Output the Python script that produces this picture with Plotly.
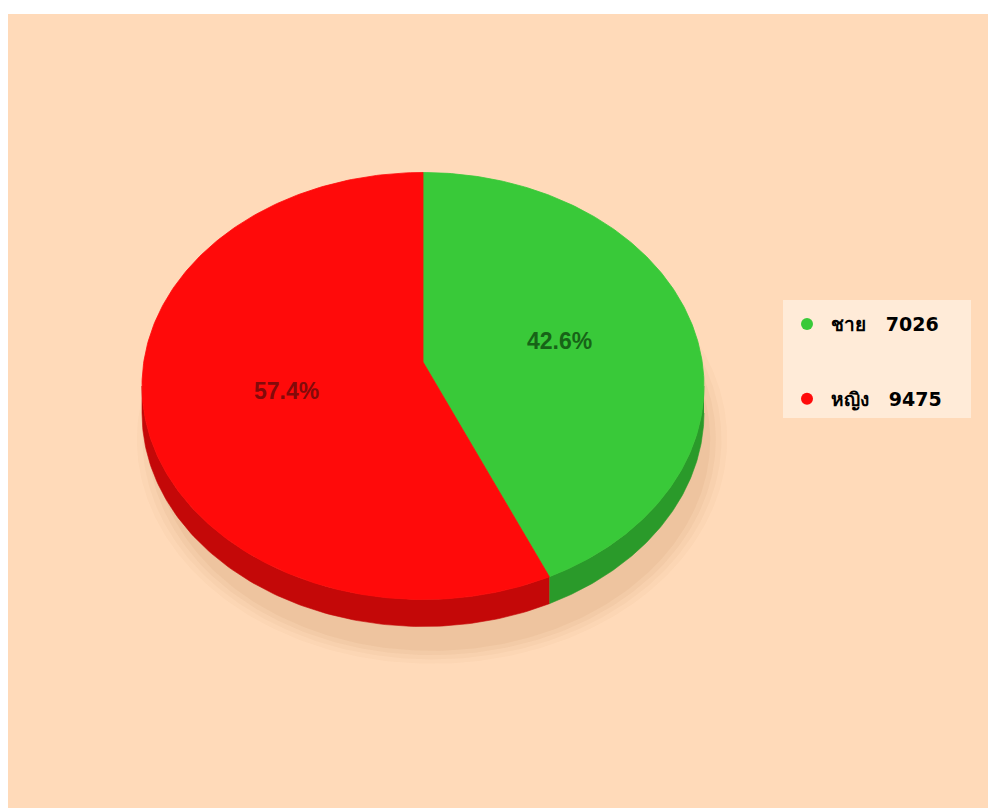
import numpy as np
import plotly.graph_objects as go

# ---- data ----
labels = ["ชาย", "หญิง"]
values = [7026, 9475]
top_colors = ["#39C939", "#FF0A0A"]
side_colors = ["#2A9A2A", "#C40808"]
label_colors = ["#176317", "#820A0A"]

# ---- geometry (axis units = screen pixels; page body adds an 8px offset) ----
OFF = 8                    # browser body margin
W, H = 996 - OFF, 808 - OFF
MT = 6
cx, cy = 423, 386          # centre of the top ellipse
apex_y = 362               # perspective apex
rx, ry = 281, 213.5
depth = 27

total = sum(values)
fracs = [v / total for v in values]
bounds = np.concatenate([[0], np.cumsum(fracs)]) * 360.0


def ell(theta_deg, dy=0.0, dx=0.0, sx=1.0, sy=1.0):
    t = np.radians(theta_deg)
    return cx + dx + rx * sx * np.sin(t), cy + dy - ry * sy * np.cos(t)


fig = go.Figure()

# shadow (layered for a soft edge)
for grow, alpha in [(1.05, 0.03), (1.03, 0.035), (1.01, 0.045), (0.99, 0.05)]:
    th = np.linspace(0, 360, 361)
    xs_top, ys_top = ell(th, dy=40 + depth / 2, dx=9, sx=grow, sy=grow)
    fig.add_trace(go.Scatter(x=xs_top, y=ys_top, mode="lines", fill="toself",
                             fillcolor=f"rgba(150,80,20,{alpha})", line=dict(width=0),
                             hoverinfo="skip", showlegend=False))

# side walls (visible front half: 90..270 deg)
for i in range(len(values)):
    a0, a1 = max(bounds[i], 90), min(bounds[i + 1], 270)
    if a1 <= a0:
        continue
    th = np.linspace(a0, a1, 120)
    x1, y1 = ell(th)
    x2, y2 = ell(th[::-1], dy=depth)
    fig.add_trace(go.Scatter(x=np.concatenate([x1, x2]), y=np.concatenate([y1, y2]),
                             mode="lines", fill="toself", fillcolor=side_colors[i],
                             line=dict(width=0.6, color=side_colors[i]),
                             hoverinfo="skip", showlegend=False))

# top faces
for i in range(len(values)):
    th = np.linspace(bounds[i], bounds[i + 1], 240)
    xa, ya = ell(th)
    xs = np.concatenate([[cx], xa, [cx]])
    ys = np.concatenate([[apex_y], ya, [apex_y]])
    fig.add_trace(go.Scatter(x=xs, y=ys, mode="lines", fill="toself",
                             fillcolor=top_colors[i],
                             line=dict(width=0.8, color=top_colors[i]),
                             name=labels[i], hoverinfo="name", showlegend=False))

# percentage labels
for i in range(len(values)):
    mid = (bounds[i] + bounds[i + 1]) / 2
    lx, ly = ell(mid, sx=0.5, sy=0.5)
    fig.add_annotation(x=lx, y=ly - 20, text=f"<b>{fracs[i]*100:.1f}%</b>",
                       showarrow=False,
                       font=dict(family="Liberation Sans, Arial, sans-serif",
                                 size=23, color=label_colors[i]))

# legend entries
for i in range(len(values)):
    fig.add_trace(go.Scatter(x=[None], y=[None], mode="markers",
                             marker=dict(size=21, color=top_colors[i]),
                             name=f"<b>{labels[i]}\u00a0\u00a0\u00a0{values[i]}</b>"
                                  "\u00a0\u00a0\u00a0\u00a0",
                             legendgroup=f"g{i}", showlegend=True))

pw, ph = W, H - MT
fig.update_layout(
    width=W, height=H,
    autosize=False,
    paper_bgcolor="#FFFFFF",
    plot_bgcolor="#FFDAB9",
    margin=dict(l=0, r=0, t=MT, b=0, pad=0, autoexpand=False),
    xaxis=dict(range=[OFF, W + OFF], visible=False, fixedrange=True),
    yaxis=dict(range=[H + OFF, MT + OFF], visible=False, fixedrange=True),
    showlegend=True,
    legend=dict(
        x=(783 - OFF) / pw, y=(H + OFF - 300) / ph, xanchor="left", yanchor="top",
        bgcolor="rgba(255,255,255,0.45)",
        font=dict(family="'DejaVu Sans', Tahoma, sans-serif",
                  size=19, color="#000000"),
        title=dict(text="\u00a0", font=dict(size=4)),
        tracegroupgap=47,
        itemwidth=38,
        itemsizing="constant",
    ),
)

fig.write_html("out.html", config={"responsive": False})
